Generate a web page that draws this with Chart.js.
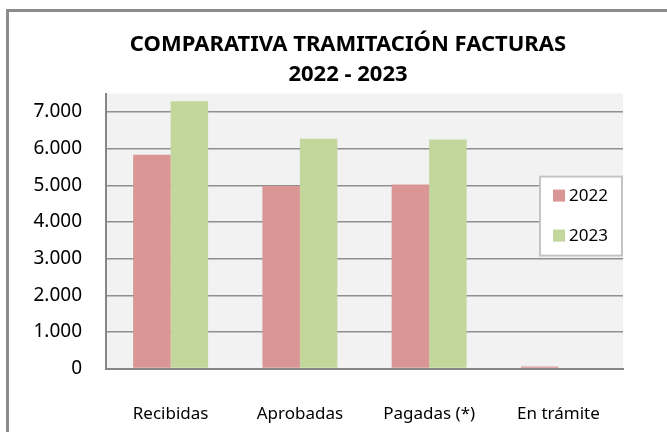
<!DOCTYPE html>
<html lang="es">
    <head>
        <meta charset="UTF-8" />
        <title>Comparativa tramitación facturas</title>
        <script src="https://cdn.jsdelivr.net/npm/chart.js@4.4.0/dist/chart.umd.min.js"></script>
        <style>
            html, body { margin: 0; padding: 0; background: #fff; overflow: hidden; }
            body { width: 667px; height: 432px; position: relative; }
            #wrap {
                position: absolute; left: 6px; top: 9px;
                width: 678px; height: 440px;
                border: 3px solid #8c8c8c;
                background: #fff;
            }
        </style>
    </head>
    <body>
        <div id="wrap"><canvas id="canvas"></canvas></div>
        <script>
            // datos
            var categorias = ["Recibidas", "Aprobadas", "Pagadas (*)", "En trámite"];
            var anios = ["2022", "2023"];
            var valores2022 = [5835, 4980, 5020, 55];
            var valores2023 = [7290, 6270, 6245, 0];
            var yTicks = [0, 1000, 2000, 3000, 4000, 5000, 6000, 7000];
            var titulo = ["COMPARATIVA TRAMITACIÓN FACTURAS", "2022 - 2023"];

            var FONT = "'Noto Sans', 'DejaVu Sans', sans-serif";

            function formatoES(v) {
                return String(v).replace(/\B(?=(\d{3})+(?!\d))/g, ".");
            }

            // fondo gris del área de trazado
            var fondoPlot = {
                id: "fondoPlot",
                beforeDraw: function (chart) {
                    var a = chart.chartArea, ctx = chart.ctx;
                    ctx.save();
                    ctx.fillStyle = "#f2f2f2";
                    ctx.fillRect(a.left, a.top, a.right - a.left, a.bottom - a.top);
                    ctx.restore();
                }
            };

            // el título se centra sobre todo el lienzo, no sólo sobre el área con padding
            var tituloCentrado = {
                id: "tituloCentrado",
                afterLayout: function (chart) {
                    if (chart.titleBlock) {
                        chart.titleBlock.left = 0;
                        chart.titleBlock.right = chart.width;
                    }
                }
            };

            // leyenda en caja blanca, encima del área de trazado
            var leyendaCaja = {
                id: "leyendaCaja",
                afterDraw: function (chart) {
                    var a = chart.chartArea, ctx = chart.ctx;
                    var w = 84, h = 81;
                    var x = a.right - w, y = a.top + 82;
                    ctx.save();
                    ctx.fillStyle = "#ffffff";
                    ctx.fillRect(x, y, w, h);
                    ctx.strokeStyle = "#c4c4c4";
                    ctx.lineWidth = 2;
                    ctx.strokeRect(x + 1, y + 1, w - 2, h - 2);
                    ctx.font = "17px " + FONT;
                    ctx.textBaseline = "middle";
                    chart.data.datasets.forEach(function (ds, i) {
                        var cy = y + 20 + i * 40;
                        ctx.fillStyle = ds.backgroundColor;
                        ctx.fillRect(x + 14, cy - 6, 12, 12);
                        ctx.fillStyle = "#000";
                        ctx.fillText(ds.label, x + 30, cy + 1);
                    });
                    ctx.restore();
                }
            };

            var ctx = document.getElementById("canvas").getContext("2d");
            var chart = new Chart(ctx, {
                type: "bar",
                data: {
                    labels: categorias,
                    datasets: [
                        { label: anios[0], data: valores2022, backgroundColor: "#d99694" },
                        { label: anios[1], data: valores2023, backgroundColor: "#c3d69b" }
                    ]
                },
                options: {
                    responsive: true,
                    maintainAspectRatio: false,
                    animation: false,
                    layout: { padding: { left: 0, right: 64, top: 0, bottom: 1 } },
                    datasets: { bar: { categoryPercentage: 0.58, barPercentage: 1.0 } },
                    plugins: {
                        legend: { display: false },
                        tooltip: { enabled: false },
                        title: {
                            display: true,
                            text: titulo,
                            color: "#000",
                            font: { family: FONT, size: 22, weight: "bold", lineHeight: 1.4 },
                            padding: { top: 17, bottom: 3 }
                        }
                    },
                    scales: {
                        x: {
                            grid: { display: false },
                            border: { display: true, color: "#868686", width: 2 },
                            ticks: { color: "#000", padding: 27, font: { family: FONT, size: 17 } }
                        },
                        y: {
                            min: 0,
                            max: 7500,
                            afterBuildTicks: function (s) {
                                s.ticks = yTicks.map(function (v) { return { value: v }; });
                            },
                            afterFit: function (s) { s.width = 97; },
                            grid: { color: "#8f8f8f", lineWidth: 1.5, drawTicks: false },
                            border: { display: true, color: "#868686", width: 2 },
                            ticks: {
                                color: "#000",
                                padding: 24,
                                font: { family: FONT, size: 19 },
                                callback: function (v) { return formatoES(v); }
                            }
                        }
                    }
                },
                plugins: [fondoPlot, tituloCentrado, leyendaCaja]
            });
        </script>
    </body>
</html>
